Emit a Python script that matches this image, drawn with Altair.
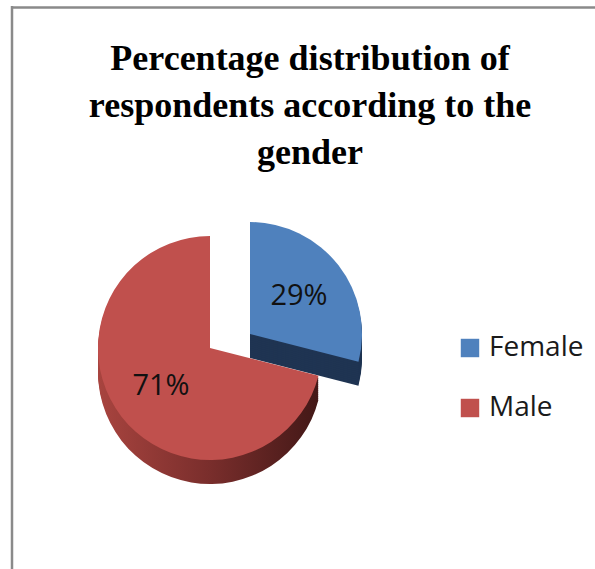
import altair as alt
import pandas as pd

# ---- data ----
genders = ["Female", "Male"]
percent = [29, 71]
slice_colors = ["#4F81BD", "#C0504D"]
title_lines = ["Percentage distribution of", "respondents according to the", "gender"]

df = pd.DataFrame({"gender": genders, "value": percent})

# ---- layout / style ----
CX, CY, R = 210, 348, 112           # pie centre and radius (pixels)
EX, EY = 40, -14                    # explode offset of the Female slice
DEPTH, STEP = 24, 2                 # fake 3-D thickness
FEMALE_SIDE = "#1F3452"
MALE_SIDE = alt.LinearGradient(
    gradient="linear",
    stops=[alt.GradientStop(color="#A8443F", offset=0),
           alt.GradientStop(color="#7A2E2C", offset=0.5),
           alt.GradientStop(color="#431817", offset=1)],
    x1=0, x2=1, y1=0, y2=0,
)

base = (
    alt.Chart(df)
    .transform_window(idx="row_number()")
    .transform_calculate(label="datum.value + '%'")
)
theta = alt.Theta("value:Q", stack=True)
order = alt.Order("idx:Q")


def show(g):
    return alt.condition(alt.datum.gender == g, alt.value(1), alt.value(0))


layers = []

# border of the chart frame
frame = alt.Chart(alt.Data(values=[{}]))
layers.append(frame.mark_rule(color="#8a8a8a", strokeWidth=2.5).encode(
    x=alt.value(12), y=alt.value(6), y2=alt.value(569)))
layers.append(frame.mark_rule(color="#8a8a8a", strokeWidth=2.5).encode(
    x=alt.value(11), x2=alt.value(595), y=alt.value(7.5)))

# title as text
title_data = alt.Data(values=[{"t": "\n".join(title_lines)}])
layers.append(
    alt.Chart(title_data).mark_text(
        font="Liberation Serif", fontWeight="bold", fontSize=36,
        lineBreak="\n", lineHeight=47, align="center", baseline="alphabetic",
        color="black",
    ).encode(x=alt.value(310), y=alt.value(70), text="t:N")
)

# sides (thickness)
for k in range(DEPTH, 0, -STEP):
    layers.append(base.mark_arc(radius=R, fill=MALE_SIDE).encode(
        theta=theta, order=order, x=alt.value(CX), y=alt.value(CY + k),
        opacity=show("Male")))
    layers.append(base.mark_arc(radius=R, fill=FEMALE_SIDE).encode(
        theta=theta, order=order, x=alt.value(CX + EX), y=alt.value(CY + EY + k),
        opacity=show("Female")))

legend = alt.Legend(
    title=None, orient="none", legendX=456, legendY=334,
    symbolType="square", symbolSize=340, symbolStrokeWidth=0,
    labelFont="Open Sans", labelFontSize=28, labelColor="#1a1a1a",
    rowPadding=32, labelOffset=5, padding=0,
)
color = alt.Color("gender:N", scale=alt.Scale(domain=genders, range=slice_colors),
                  legend=legend)

# top faces
layers.append(base.mark_arc(radius=R).encode(
    theta=theta, order=order, color=color,
    x=alt.value(CX), y=alt.value(CY), opacity=show("Male")))
layers.append(base.mark_arc(radius=R).encode(
    theta=theta, order=order, color=color,
    x=alt.value(CX + EX), y=alt.value(CY + EY), opacity=show("Female")))

# percentage labels
lab = dict(font="Open Sans", fontSize=29, color="#111111", radius=62)
layers.append(base.mark_text(**lab).encode(
    theta=theta, order=order, text="label:N",
    x=alt.value(CX), y=alt.value(CY), opacity=show("Male")))
layers.append(base.mark_text(**lab).encode(
    theta=theta, order=order, text="label:N",
    x=alt.value(CX + EX), y=alt.value(CY + EY), opacity=show("Female")))

chart = (
    alt.layer(*layers)
    .properties(width=595, height=569, padding=0,
                autosize=alt.AutoSizeParams(type="none"),
                background="white")
    .configure_view(stroke=None)
)

chart.save("out.html", embed_options={"renderer": "svg", "actions": False})
